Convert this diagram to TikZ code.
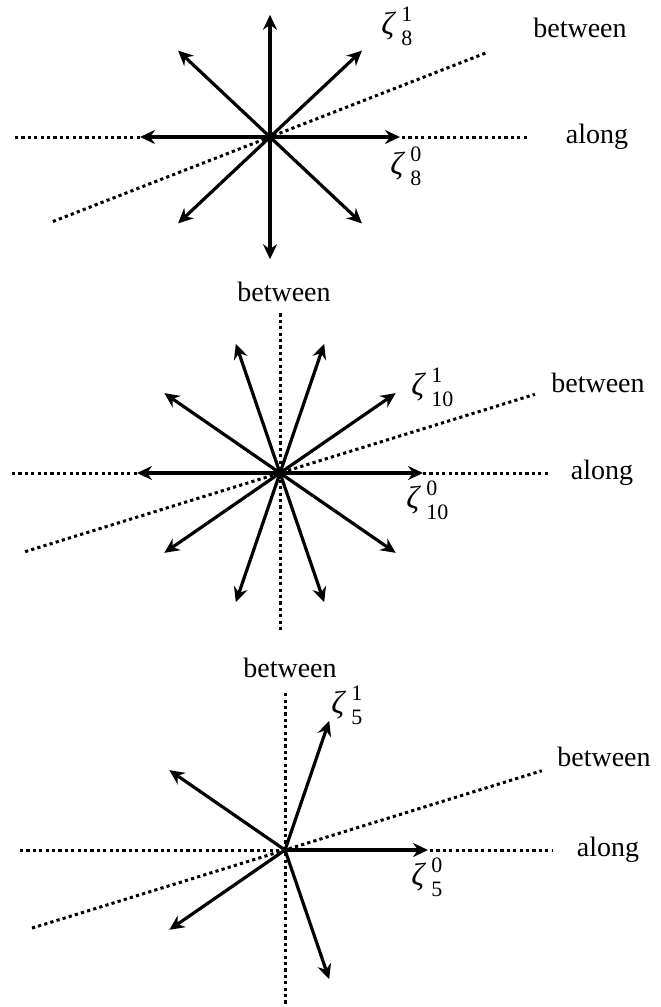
\documentclass[tikz,border=0pt]{standalone}
\usepackage{fontspec}
\setmainfont{Liberation Serif}
\usetikzlibrary{arrows.meta}

% root label: zeta with stacked upright indices
\newcommand{\zroot}[2]{{\fontsize{16}{18}\selectfont\itshape ζ}\hspace{3.5pt}{\fontsize{11}{12}\selectfont\begin{tabular}[c]{@{}l@{}}#1\\#2\end{tabular}}}

\begin{document}
\begin{tikzpicture}[x=0.5pt, y=0.5pt, every node/.style={font=\fontsize{14}{16}\selectfont, inner sep=0pt},
	>={Stealth[length=7.5pt, width=7pt, inset=2.5pt]},
	spoke/.style={->, line width=1.6pt},
	guide/.style={line width=1.5pt, dash pattern=on 1.6pt off 1.6pt}]
	\useasboundingbox (0,0) rectangle (660,-1007);
	% n = 8
	\begin{scope}[shift={(270,-137)}, yscale=0.94]
		\coordinate (o8) at (0,0);
		\coordinate (w8a) at (-255,0); \coordinate (w8b) at (-130,0);
		\coordinate (e8a) at (132,0); \coordinate (e8b) at (257,0);
		\coordinate (s8) at (202.5:235); \coordinate (n8) at (22.5:235);
		\draw[guide] (w8a) -- (w8b);
		\draw[guide] (e8a) -- (e8b);
		\draw[guide] (s8) -- (n8);
		\foreach \a in {0,45,...,315} {
			\coordinate (t8-\a) at (\a:130);
			\draw[spoke] (o8) -- (t8-\a);
		}
	\end{scope}
	\node[anchor=west] (z81) at (381,-29) {\zroot{1}{8}};
	\node[anchor=west] (z80) at (390,-169) {\zroot{0}{8}};
	\node (bt8) at (580,-28) {between};
	\node (al8) at (597,-137) {along};
	% n = 10
	\begin{scope}[shift={(280,-473)}, yscale=0.95]
		\coordinate (o10) at (0,0);
		\coordinate (w10a) at (-268,0); \coordinate (w10b) at (-143,0);
		\coordinate (e10a) at (143,0); \coordinate (e10b) at (270,0);
		\coordinate (s10) at (198:268); \coordinate (n10) at (18:268);
		\coordinate (u10) at (0,168); \coordinate (d10) at (0,-165);
		\draw[guide] (w10a) -- (w10b);
		\draw[guide] (e10a) -- (e10b);
		\draw[guide] (s10) -- (n10);
		\draw[guide] (u10) -- (d10);
		\foreach \a in {0,36,...,324} {
			\coordinate (t10-\a) at (\a:143);
			\draw[spoke] (o10) -- (t10-\a);
		}
	\end{scope}
	\node (bv10) at (284,-292) {between};
	\node[anchor=west] (z101) at (411,-390) {\zroot{1}{10}};
	\node[anchor=west] (z100) at (406,-503) {\zroot{0}{10}};
	\node (bt10) at (598,-383) {between};
	\node (al10) at (602,-473) {along};
	% n = 5
	\begin{scope}[shift={(285,-850)}, yscale=0.95]
		\coordinate (o5) at (0,0);
		\coordinate (w5) at (-265,0);
		\coordinate (e5a) at (145,0); \coordinate (e5b) at (267,0);
		\coordinate (s5) at (198:266); \coordinate (n5) at (18:270);
		\coordinate (u5) at (0,165); \coordinate (d5) at (0,-166);
		\draw[guide] (w5) -- (o5);
		\draw[guide] (e5a) -- (e5b);
		\draw[guide] (s5) -- (n5);
		\draw[guide] (u5) -- (d5);
		\foreach \a in {0,72,...,288} {
			\coordinate (t5-\a) at (\a:143);
			\draw[spoke] (o5) -- (t5-\a);
		}
	\end{scope}
	\node (bv5) at (290,-668) {between};
	\node[anchor=west] (z51) at (331,-708) {\zroot{1}{5}};
	\node[anchor=west] (z50) at (411,-880) {\zroot{0}{5}};
	\node (bt5) at (604,-757) {between};
	\node (al5) at (608,-850) {along};
\end{tikzpicture}
\end{document}
